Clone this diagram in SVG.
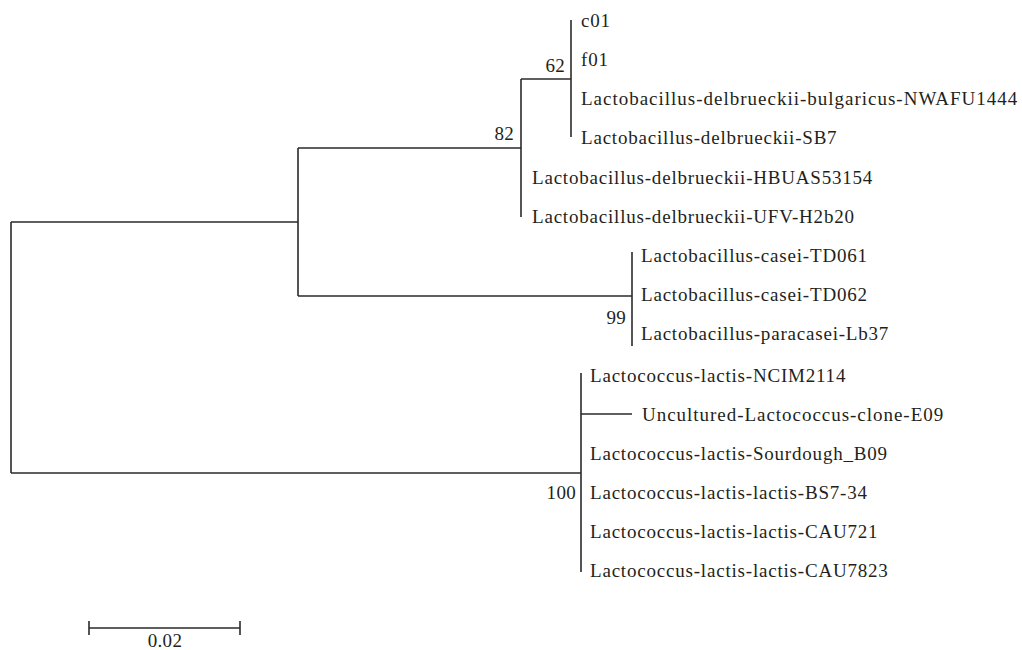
<svg xmlns="http://www.w3.org/2000/svg" width="1022" height="650" viewBox="0 0 1022 650">
<style>
.br{fill:none;stroke:#2b2b2b;stroke-width:1.6}
text{font-family:"Liberation Serif","DejaVu Serif",serif;font-size:19px;letter-spacing:0.8px;fill:#231f20}
.bs{text-anchor:end;letter-spacing:0.3px}
</style>
<rect width="1022" height="650" fill="#fff"/>
<g id="connectors">
<path class="br" d="M11,222V473M11,222H298M11,473H581"/>
<path class="br" d="M298,148V296M298,148H521M298,296H632"/>
<path class="br" d="M521,79V217M521,79H571"/>
<path class="br" d="M571,20V137"/>
<path class="br" d="M632,252V346"/>
<path class="br" d="M581,373V572M581,414H632"/>
</g>
<g id="bootstrap">
<text class="bs" x="565" y="72">62</text>
<text class="bs" x="514" y="140">82</text>
<text class="bs" x="626" y="324">99</text>
<text class="bs" x="576" y="499">100</text>
</g>
<g id="n-c01"><text x="581" y="27">c01</text></g>
<g id="n-f01"><text x="581" y="66">f01</text></g>
<g id="n-nwafu"><text x="581" y="105" textLength="437" lengthAdjust="spacing">Lactobacillus-delbrueckii-bulgaricus-NWAFU1444</text></g>
<g id="n-sb7"><text x="581" y="144">Lactobacillus-delbrueckii-SB7</text></g>
<g id="n-hbuas"><text x="532" y="184">Lactobacillus-delbrueckii-HBUAS53154</text></g>
<g id="n-ufv"><text x="532" y="223">Lactobacillus-delbrueckii-UFV-H2b20</text></g>
<g id="n-td061"><text x="641" y="262">Lactobacillus-casei-TD061</text></g>
<g id="n-td062"><text x="641" y="301">Lactobacillus-casei-TD062</text></g>
<g id="n-lb37"><text x="641" y="340">Lactobacillus-paracasei-Lb37</text></g>
<g id="n-ncim"><text x="590" y="382">Lactococcus-lactis-NCIM2114</text></g>
<g id="n-e09"><text x="642" y="421" textLength="302" lengthAdjust="spacing">Uncultured-Lactococcus-clone-E09</text></g>
<g id="n-b09"><text x="590" y="460">Lactococcus-lactis-Sourdough_B09</text></g>
<g id="n-bs7"><text x="590" y="499">Lactococcus-lactis-lactis-BS7-34</text></g>
<g id="n-cau721"><text x="590" y="538">Lactococcus-lactis-lactis-CAU721</text></g>
<g id="n-cau7823"><text x="590" y="577">Lactococcus-lactis-lactis-CAU7823</text></g>
<g id="scalebar">
<path class="br" d="M89,628H240M89,621V635M240,621V635"/>
<text x="165" y="647" text-anchor="middle" style="letter-spacing:0.3px">0.02</text>
</g>
</svg>
